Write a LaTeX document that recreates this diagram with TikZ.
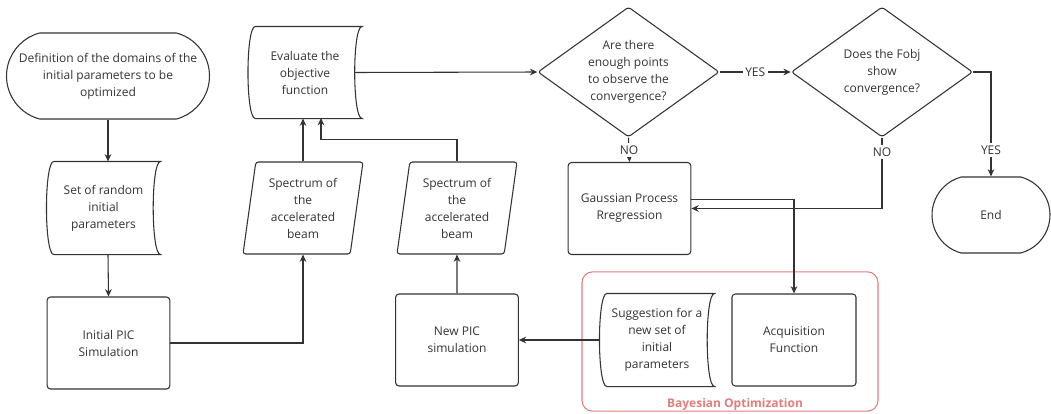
\documentclass[tikz,border=0pt]{standalone}
\usepackage{fontspec}
\setmainfont{Open Sans}
\usetikzlibrary{shapes.geometric,shapes.misc,arrows.meta}

\definecolor{ink}{RGB}{51,51,51}
\definecolor{bayesred}{RGB}{226,126,126}

\tikzset{every picture/.style={line width=0.8pt}}
\tikzset{
  txt/.style={font=\fontsize{9pt}{12.75pt}\selectfont, text=ink, align=center},
  procbox/.style={txt, draw=ink, rectangle, rounded corners=2.5pt, minimum width=92pt, minimum height=69pt, inner sep=0pt},
  termbox/.style={txt, draw=ink, rounded rectangle, rounded rectangle arc length=150, inner sep=0pt},
  databox/.style={txt, rectangle, minimum width=85pt, minimum height=69pt, inner sep=0pt},
  iobox/.style={txt, draw=ink, trapezium, trapezium left angle=78, trapezium right angle=102, trapezium stretches body, minimum width=90pt, minimum height=69pt, inner sep=0pt, rounded corners=2pt},
  decision/.style={txt, draw=ink, diamond, shape aspect=1.4, minimum width=136pt, minimum height=97.5pt, inner sep=0pt, rounded corners=2pt},
  arr/.style={draw=ink, -{Stealth[length=5.5pt,width=5pt]}},
  lbl/.style={txt, fill=white, inner sep=2pt},
}

% outline of a stored data node: convex left side, concave right side
\newcommand{\storedoutline}[2]{%
  \draw[ink] ([xshift=#2]#1.north west) -- (#1.north east)
    .. controls ([xshift=-1.333*#2]#1.north east) and ([xshift=-1.333*#2]#1.south east) .. (#1.south east)
    -- ([xshift=#2]#1.south west)
    .. controls ([xshift=-0.333*#2]#1.south west) and ([xshift=-0.333*#2]#1.north west) .. ([xshift=#2]#1.north west) -- cycle;}

\begin{document}
\begin{tikzpicture}[x=0.75pt,y=0.75pt,yscale=-1,xscale=1]
	\useasboundingbox (0,0) rectangle (1051,414);

	%Shape: Rounded Rectangle
	\node[draw=bayesred, rounded corners=8pt, minimum width=222pt, minimum height=104.5pt] (bayes) at (730,341.5) {};
	% Text Node
	\node[font=\fontsize{9pt}{11pt}\selectfont\bfseries, text=bayesred] (bayeslbl) at (735,404) {Bayesian Optimization};

	%Shape: Terminator
	\node[termbox, minimum width=152.25pt, minimum height=64.5pt] (defdom) at (108,76) {Definition of the domains of the\\initial parameters to be\\optimized};
	%Shape: Stored Data
	\node[databox, minimum width=84.75pt] (randpar) at (103.5,208) {Set of random\\initial\\parameters};
	\storedoutline{randpar}{5.5pt}
	%Shape: Rectangle
	\node[procbox] (initpic) at (108.5,343) {Initial PIC\\Simulation};
	%Shape: Data
	\node[iobox] (spec1) at (303,208) {Spectrum of\\the\\accelerated\\beam};
	%Shape: Stored Data
	\node[databox, minimum width=84.75pt, minimum height=68.25pt] (evalobj) at (305,72.5) {Evaluate the\\objective\\function};
	\storedoutline{evalobj}{5.5pt}
	%Shape: Data
	\node[iobox] (spec2) at (457,208) {Spectrum of\\the\\accelerated\\beam};
	%Shape: Rectangle
	\node[procbox] (newpic) at (457,340) {New PIC\\simulation};
	%Shape: Diamond
	\node[decision] (enough) at (628.5,72) {Are there\\enough points\\to observe the\\convergence?};
	%Shape: Diamond
	\node[decision] (fobjconv) at (882,72) {Does the Fobj\\show\\convergence?};
	%Shape: Rectangle
	\node[procbox] (gpr) at (629.5,208.5) {Gaussian Process\\Rregression};
	%Shape: Stored Data
	\node[databox, minimum width=85.5pt] (suggest) at (657,340) {Suggestion for a\\new set of\\initial\\parameters};
	\storedoutline{suggest}{5.5pt}
	%Shape: Rectangle
	\node[procbox, minimum width=93pt] (acq) at (794,340) {Acquisition\\Function};
	%Shape: Terminator
	\node[termbox, minimum width=88.5pt, minimum height=57pt] (endnode) at (991,215) {End};

	\coordinate (evalin) at (321,118);

	%Straight Lines
	\draw[arr] (defdom.south) -- (defdom.south |- randpar.north);
	\draw[arr] (defdom.south |- randpar.south) -- (initpic.north);
	\draw[arr] (initpic.east) -| (spec1.south);
	\draw[arr] (spec1.north) -- (spec1.north |- evalobj.south);
	\draw[arr] (spec2.north) -- ++(0,-22) -| (evalin);
	\draw[arr] (newpic.north) -- (spec2.south);
	\draw[arr] ([xshift=-5.5pt]evalobj.east) -- (enough.west);
	\draw[arr] (enough.east) -- node[lbl] {YES} (fobjconv.west);
	\draw[arr] (enough.south) -- node[lbl] {NO} (gpr.north);
	\draw[arr] (fobjconv.east) -| node[lbl, pos=0.875] {YES} (endnode.north);
	\draw[arr] (fobjconv.south) |- node[lbl, pos=0.1] {NO} (gpr.east);
	\draw[arr] ([yshift=-7pt]gpr.east) -| (acq.north);
	\draw[arr] (suggest.west) -- (newpic.east);

\end{tikzpicture}
\end{document}
